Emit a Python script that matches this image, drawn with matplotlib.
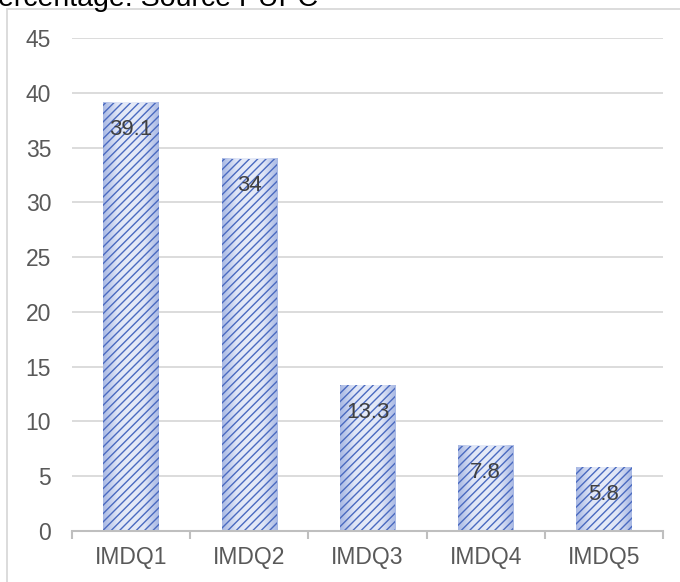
import numpy as np
import matplotlib.pyplot as plt
from matplotlib.patches import Rectangle
from matplotlib.colors import LinearSegmentedColormap

# IMD quintile shares (%)
quintiles = ["IMDQ1", "IMDQ2", "IMDQ3", "IMDQ4", "IMDQ5"]
shares = [39.1, 34, 13.3, 7.8, 5.8]
y_ticks = [0, 5, 10, 15, 20, 25, 30, 35, 40, 45]

plt.rcParams["font.family"] = ["Liberation Sans", "DejaVu Sans"]
plt.rcParams["hatch.linewidth"] = 1.0
plt.rcParams["hatch.color"] = "#4a6ac0"

fig = plt.figure(figsize=(6.8, 5.82), dpi=100)
W, H = 680, 582

# chart frame (runs off the right/bottom edge)
fig.patches.append(Rectangle((7 / W, -0.1), 1.0, 1 - 9 / H + 0.1,
                             transform=fig.transFigure, fill=False,
                             edgecolor="#d9d9d9", linewidth=1.3))

fig.text(-21 / W, 1 - 6 / H, "Percentage. Source PUPC", fontsize=20.5,
         color="black", ha="left", va="baseline")

ax = fig.add_axes([72 / W, 1 - 531 / H, (663 - 72) / W, (531 - 38) / H])

x = range(len(quintiles))
bars = ax.bar(x, shares, width=0.47, facecolor="none", hatch="////",
              edgecolor="#4a6ac0", linewidth=0, zorder=3)

# soft side-to-side shading under the hatch
shade = LinearSegmentedColormap.from_list(
    "shade", ["#a9b9e4", "#dfe5f6", "#e6ebf8", "#dfe5f6", "#a9b9e4"])
grad = np.linspace(0, 1, 64).reshape(1, -1)
for b in bars:
    x0, w, h = b.get_x(), b.get_width(), b.get_height()
    ax.imshow(grad, cmap=shade, extent=(x0, x0 + w, 0, h), aspect="auto",
              interpolation="bilinear", zorder=2)

for b, v in zip(bars, shares):
    ax.annotate(f"{v:g}", (b.get_x() + b.get_width() / 2, v),
                xytext=(0, -12), textcoords="offset points",
                ha="center", va="top", fontsize=16, color="#404040", zorder=4)

ax.set_xlim(-0.5, len(quintiles) - 0.5)
ax.set_ylim(0, 45)
ax.set_yticks(y_ticks)
ax.set_xticks(list(x))
ax.set_xticklabels(quintiles)

ax.yaxis.grid(True, color="#d9d9d9", linewidth=1.3, zorder=0)
ax.set_axisbelow(True)
for s in ["top", "right", "left"]:
    ax.spines[s].set_visible(False)
ax.spines["bottom"].set_color("#bfbfbf")
ax.spines["bottom"].set_linewidth(1.5)
ax.spines["bottom"].set_zorder(5)

ax.tick_params(axis="y", length=0, pad=15, labelsize=16.5, labelcolor="#595959")
ax.tick_params(axis="x", length=0, pad=11, labelsize=16.5, labelcolor="#595959")

# category separator ticks
ax.set_xticks([i - 0.5 for i in range(len(quintiles) + 1)], minor=True)
ax.tick_params(axis="x", which="minor", length=6, width=1.5, color="#bfbfbf")

fig.savefig("out.png", dpi=100)
